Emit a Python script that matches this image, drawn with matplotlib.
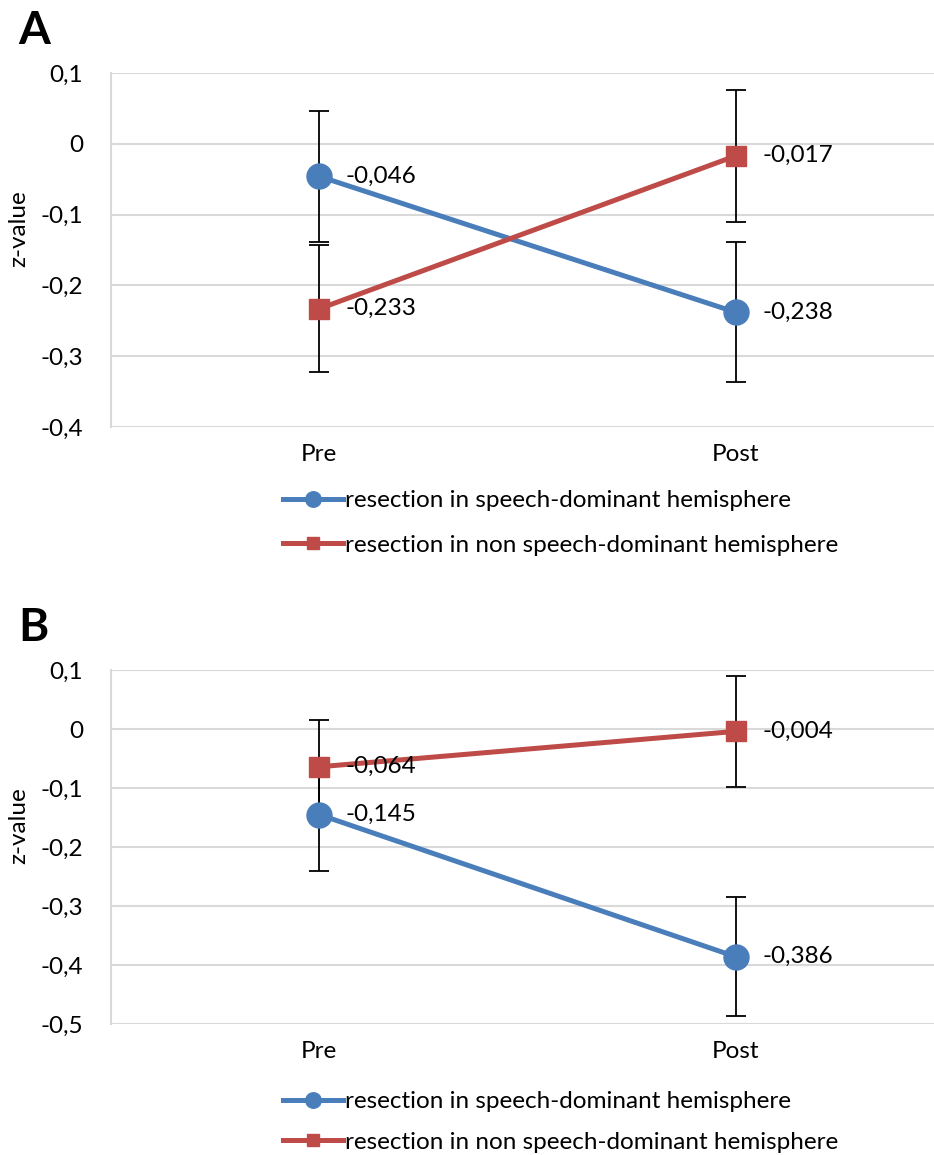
import matplotlib
matplotlib.use("Agg")
import matplotlib.pyplot as plt
from matplotlib.ticker import FuncFormatter

plt.rcParams['font.family'] = ['Lato', 'DejaVu Sans']

# ============================
# DATA
# ============================
phases = ["Pre", "Post"]
series_names = ["resection in speech-dominant hemisphere",
                "resection in non speech-dominant hemisphere"]

# panel A
a_speech = [-0.046, -0.238]
a_speech_err = [0.093, 0.099]
a_nonspeech = [-0.233, -0.017]
a_nonspeech_err = [0.090, 0.093]

# panel B
b_speech = [-0.145, -0.386]
b_speech_err = [0.096, 0.101]
b_nonspeech = [-0.064, -0.004]
b_nonspeech_err = [0.080, 0.094]

BLUE = "#4A7EBB"
RED = "#BE4B48"
GRID = "#D9D9D9"
FS = 17.5


def comma_fmt(v, pos):
    if abs(v) < 1e-9:
        return "0"
    return ("%.1f" % v).replace(".", ",")


def draw_panel(ax, speech, speech_err, nonspeech, nonspeech_err, ylim, letter):
    x = list(range(len(phases)))
    styles = [(speech, speech_err, BLUE, "o", 18),
              (nonspeech, nonspeech_err, RED, "s", 14.5)]
    for vals, errs, col, mk, ms in styles:
        ax.errorbar(x, vals, yerr=errs, fmt="none", ecolor="black",
                    elinewidth=1.3, capsize=7.5, capthick=1.3, zorder=3)
    for (vals, errs, col, mk, ms), name in zip(styles, series_names):
        ax.plot(x, vals, color=col, linewidth=3.6, marker=mk, markersize=ms,
                markerfacecolor=col, markeredgecolor=col, label=name, zorder=4)
        for xi, v in zip(x, vals):
            ax.annotate(("%.3f" % v).replace(".", ","), (xi, v),
                        xytext=(19, 0), textcoords="offset points",
                        ha="left", va="center", fontsize=FS, zorder=5)

    ax.set_xlim(-0.5, 1.5)
    ax.set_ylim(*ylim)
    ax.set_xticks(x)
    ax.set_xticklabels(phases, fontsize=FS)
    ax.yaxis.set_major_locator(plt.MultipleLocator(0.1))
    ax.yaxis.set_major_formatter(FuncFormatter(comma_fmt))
    ax.tick_params(axis="y", labelsize=FS, length=0, pad=20)
    ax.tick_params(axis="x", length=0, pad=12)
    ax.grid(True, axis="y", color=GRID, linewidth=1.5)
    ax.set_axisbelow(True)
    for s in ["top", "right", "bottom"]:
        ax.spines[s].set_visible(False)
    ax.spines["left"].set_color(GRID)
    ax.spines["left"].set_linewidth(1.5)
    ax.set_ylabel("z-value", fontsize=FS)
    ax.yaxis.set_label_coords(-0.098, 0.56)
    ax.text(-0.111, 1.118, letter, transform=ax.transAxes, fontsize=33,
            fontweight="bold", ha="left", va="center")


fig = plt.figure(figsize=(9.34, 11.55), dpi=100)
ax_a = fig.add_axes([0.1188, 0.6303, 0.892, 0.3065])
ax_b = fig.add_axes([0.1188, 0.1134, 0.892, 0.3065])

draw_panel(ax_a, a_speech, a_speech_err, a_nonspeech, a_nonspeech_err, (-0.4, 0.1), "A")
draw_panel(ax_b, b_speech, b_speech_err, b_nonspeech, b_nonspeech_err, (-0.5, 0.1), "B")

for ax, ycen, spacing in [(ax_a, 1 - 523 / 1155, 0.95), (ax_b, 1 - 1122 / 1155, 0.8)]:
    ax.legend(loc="center left", bbox_to_anchor=(283 / 934, ycen),
              bbox_transform=fig.transFigure, frameon=False, fontsize=FS,
              handlelength=2.45, handletextpad=0.1, labelspacing=spacing,
              borderaxespad=0, borderpad=0, markerscale=0.62)

fig.savefig("out.png", dpi=100)
